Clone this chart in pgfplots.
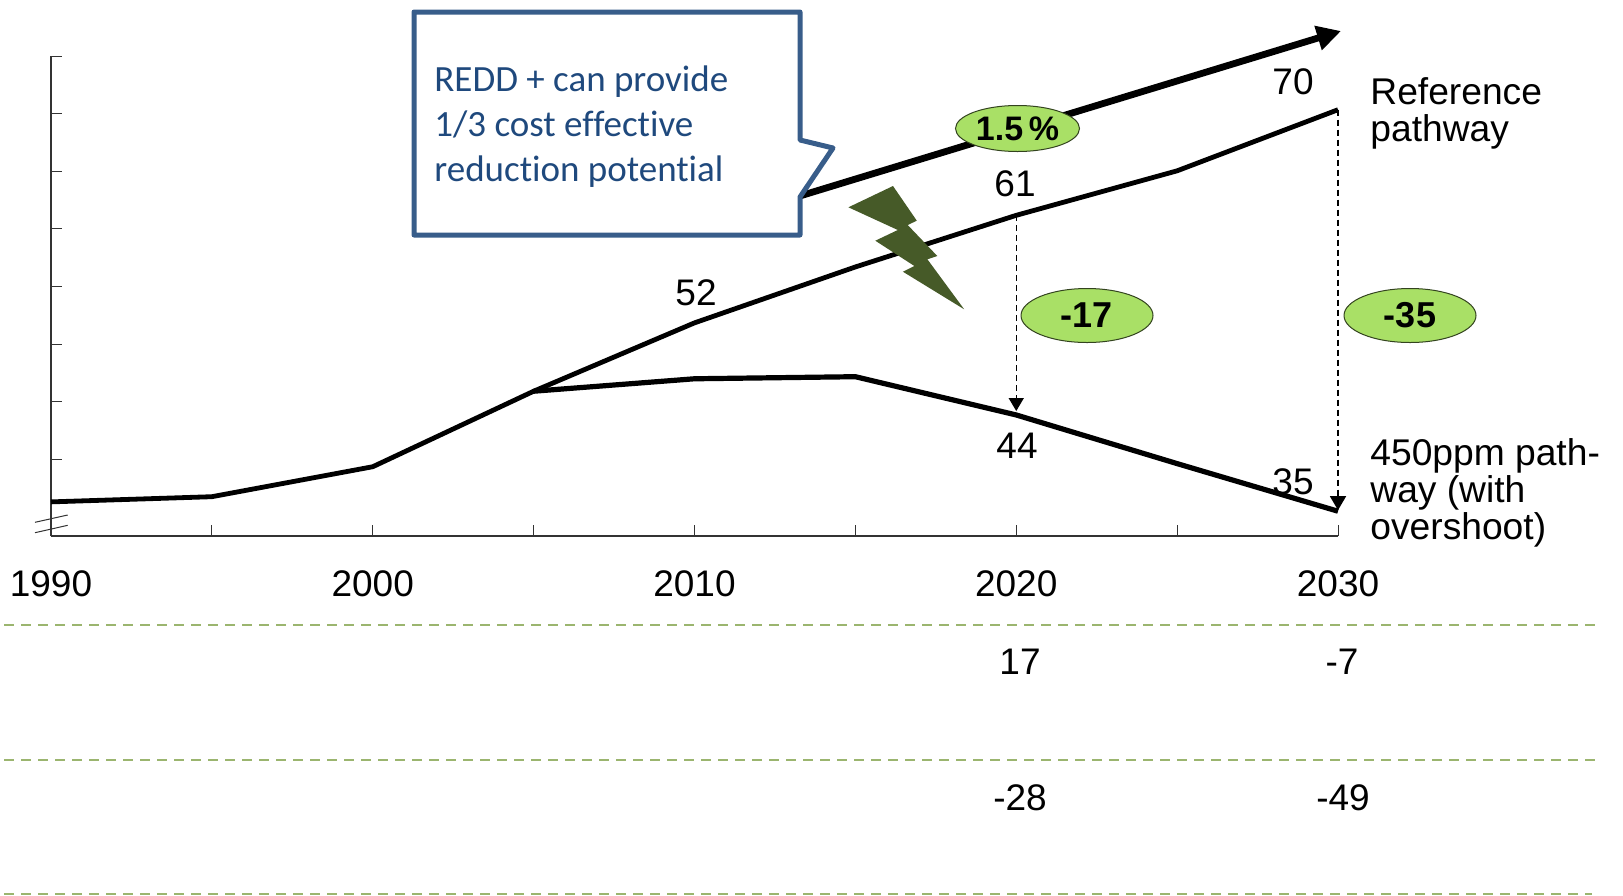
\documentclass[border=0pt]{standalone}
\usepackage{fontspec}
\usepackage{pgfplots}
\pgfplotsset{compat=1.18}
\usetikzlibrary{arrows.meta,shapes.geometric}
\setmainfont{Liberation Sans}
\newfontfamily\boxfont[Ligatures=NoCommon]{Carlito}
\definecolor{boxline}{HTML}{385D8A}
\definecolor{boxtext}{HTML}{1F497D}
\definecolor{bubble}{HTML}{A9E066}
\definecolor{bolt}{HTML}{465A28}
\definecolor{rowline}{HTML}{9BB56F}
\newcommand{\lab}{\fontsize{18.5}{22}\selectfont}
\begin{document}
% tikz coordinates below are reference pixels, origin top left
\begin{tikzpicture}[x=0.5pt,y=-0.5pt]
\path[use as bounding box] (0,0) rectangle (1623,895);
\begin{axis}[
  at={(25.5pt,-268pt)}, anchor=origin,
  scale only axis, width=643.5pt, height=240pt,
  xmin=1990, xmax=2030, ymin=33.36, ymax=75,
  axis x line=bottom, axis y line=left,
  axis line style={-, color=black!80, line width=0.6pt},
  tick style={color=black!80, line width=0.5pt},
  tick align=inside, major tick length=5.5pt,
  xtick={1990,1995,...,2030},
  xticklabels={1990,,2000,,2010,,2020,,2030},
  xticklabel style={font=\lab, yshift=-13.6pt},
  ytick={40,45,...,75}, yticklabels={},
  clip=false]
\addplot[black, line width=2.4pt, line join=round] coordinates {
  (1990,36.32) (1995,36.77) (2000,39.37) (2005,45.92) (2010,51.85)
  (2015,56.70) (2020,61.18) (2025,65.04) (2030,70.34)};
\addplot[black, line width=2.6pt, line join=round] coordinates {
  (2005,45.92) (2010,47.00) (2015,47.18) (2020,43.86) (2025,39.64) (2030,35.51)};
\addplot[black, dash pattern=on 3pt off 2pt, line width=0.7pt, -{Triangle[length=6.5pt,width=7.5pt]}] coordinates {(2020,61.18) (2020,44.2)};
\addplot[black, dash pattern=on 3pt off 2pt, line width=0.7pt, -{Triangle[length=7pt,width=8pt]}] coordinates {(2030,70.34) (2030,35.6)};
\end{axis}
% axis break
\draw[black!80, line width=0.5pt] (35,522.3) -- (67.7,515) (35,532.7) -- (67.7,525.3);
% growth arrow
\draw[black, line width=3.4pt, -{Triangle[length=12pt,width=12pt]}] (790,199) -- (1341,31);
% bolt
\fill[bolt] (848.4,207.3) -- (893,186) -- (916.8,220.7) -- (907.7,225) -- (937.3,256) -- (927.4,259.3)
  -- (964.2,309.3) -- (902.9,271.7) -- (914.4,266) -- (875.3,240.7) -- (897.8,230) -- cycle;
% callout
\draw[boxline, fill=white, line width=2.5pt, line join=round]
  (414,12) -- (800,12) -- (800,140) -- (833,148) -- (800,197) -- (800,235) -- (414,235) -- cycle;
\node[anchor=west, inner sep=0pt, text=boxtext, align=left, font=\boxfont\fontsize{18.5}{22.5}\selectfont]
  at (434,126.5) {REDD + can provide\\1/3 cost effective\\reduction potential};
% bubbles
\tikzset{bub/.style={ellipse, draw=black!70!bubble, fill=bubble, line width=0.5pt, inner sep=0pt, font=\bfseries\fontsize{18}{22}\selectfont}}
\node[bub, minimum width=62pt, minimum height=23pt, font=\bfseries\fontsize{17}{22}\selectfont] at (1017.5,128.5) {1.5\,\%};
\node[bub, minimum width=66pt, minimum height=27pt] at (1087,315.5) {-17};
\node[bub, minimum width=66pt, minimum height=27pt] at (1410,315.5) {-35};
% value labels
\tikzset{val/.style={inner sep=0pt, font=\lab}}
\node[val] at (1293,82) {70};
\node[val] at (1015,184) {61};
\node[val] at (696,293) {52};
\node[val] at (1017,446) {44};
\node[val] at (1293,482) {35};
\node[val, anchor=west, align=left, font=\fontsize{18.6}{18.6}\selectfont] at (1370,113) {Reference\\pathway};
\node[val, anchor=west, align=left, font=\fontsize{18.6}{18.6}\selectfont] at (1370,493) {450ppm path-\\way (with\\overshoot)};
% table rows
\draw[rowline, line width=1pt, dash pattern=on 5pt off 3.5pt] (4,625) -- (1597,625);
\draw[rowline, line width=1pt, dash pattern=on 5pt off 3.5pt] (4,760) -- (1597,760);
\draw[rowline, line width=1pt, dash pattern=on 5pt off 3.5pt] (4,894) -- (1592,894);
\node[val] at (1020,662) {17};
\node[val] at (1342,662) {-7};
\node[val] at (1020,798) {-28};
\node[val] at (1343,798) {-49};
\end{tikzpicture}
\end{document}
